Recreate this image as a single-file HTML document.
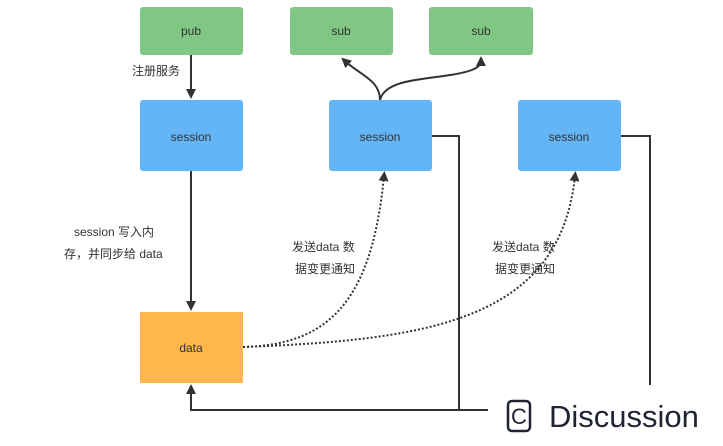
<!DOCTYPE html>
<html><head><style>
body{margin:0;width:723px;height:446px;background:#fff;overflow:hidden;font-family:"Liberation Sans","Noto Sans CJK SC",sans-serif;}
</style></head><body>
<svg width="723" height="446" xmlns="http://www.w3.org/2000/svg" style="position:absolute;left:0;top:0">
<defs>
<marker id="a" markerWidth="10" markerHeight="10" refX="5" refY="5" orient="auto" markerUnits="userSpaceOnUse"><path d="M0,0 L10,5 L0,10 z" fill="#333"/></marker>
</defs>
<g font-size="12" fill="#333" text-anchor="middle">
<rect x="140" y="7" width="103" height="48" rx="3" fill="#81c784"/>
<rect x="290" y="7" width="103" height="48" rx="3" fill="#81c784"/>
<rect x="429" y="7" width="104" height="48" rx="3" fill="#81c784"/>
<text x="191" y="35">pub</text><text x="341" y="35">sub</text><text x="481" y="35">sub</text>
<rect x="140" y="100" width="103" height="71" rx="3" fill="#64b5f6"/>
<rect x="329" y="100" width="103" height="71" rx="3" fill="#64b5f6"/>
<rect x="518" y="100" width="103" height="71" rx="3" fill="#64b5f6"/>
<text x="191" y="141">session</text><text x="380" y="141">session</text><text x="569" y="141">session</text>
<rect x="140" y="312" width="103" height="71" fill="#ffb74d"/>
<text x="191" y="352">data</text>
</g>
<g stroke="#333" stroke-width="2" fill="none">
<path d="M191 55 V94" marker-end="url(#a)"/>
<path d="M191 171 V306" marker-end="url(#a)"/>
<path d="M380 100 C380 80 360 75 345 61" marker-end="url(#a)"/>
<path d="M380 100 C385 80 420 80 450 75 C470 72 481 68 481 61" marker-end="url(#a)"/>
<path d="M432 136 H459 V410 H488"/>
<path d="M459 410 H191 V389" marker-end="url(#a)"/>
<path d="M621 136 H650 V385"/>
<path d="M243 347 C330 345 372 300 384 176" stroke-dasharray="2,2" marker-end="url(#a)"/>
<path d="M243 347 C430 340 560 320 575 176" stroke-dasharray="2,2" marker-end="url(#a)"/>
</g>
<g font-size="12" fill="#333">
<text x="74" y="236">session 写入内</text>
<text x="64" y="258">存，并同步给 data</text>
<text x="132" y="75">注册服务</text>
<text x="292" y="251">发送data 数</text>
<text x="295" y="273">据变更通知</text>
<text x="492" y="251">发送data 数</text>
<text x="495" y="273">据变更通知</text>
</g>
<rect x="508" y="401" width="22" height="30" rx="4" fill="none" stroke="#1f2433" stroke-width="2.5"/>
<text x="519" y="424" font-size="22" fill="#1f2433" text-anchor="middle">C</text>
<text x="549" y="427" font-size="31" fill="#1f2433">Discussion</text>
</svg>
</body></html>
